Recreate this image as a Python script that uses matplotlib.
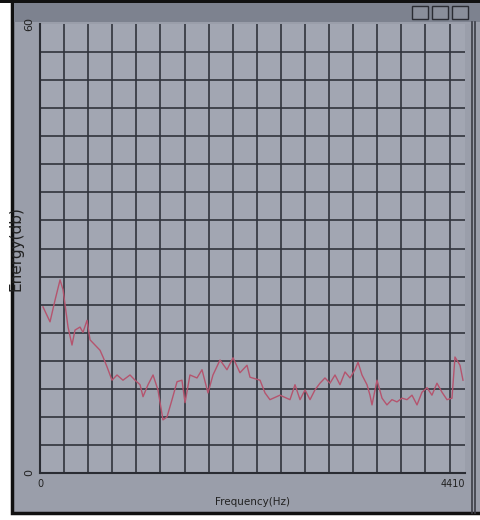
import matplotlib
matplotlib.use("Agg")
import matplotlib.pyplot as plt
from matplotlib.patches import Rectangle
import numpy as np

# spectrum
freq_hz = [31, 104, 156, 208, 239, 291, 332, 363, 415, 446, 488, 519, 571, 623, 654,
           695, 747, 799, 861, 934, 986, 1038, 1069, 1121, 1173, 1224, 1276, 1318, 1370,
           1422, 1473, 1505, 1556, 1629, 1681, 1743, 1795, 1868, 1940, 2003, 2075, 2148,
           2179, 2283, 2335, 2386, 2490, 2594, 2646, 2698, 2750, 2802, 2853, 2905, 2957,
           3009, 3061, 3113, 3165, 3217, 3268, 3300, 3341, 3393, 3424, 3445, 3497, 3549,
           3600, 3652, 3704, 3756, 3808, 3860, 3912, 3964, 4016, 4067, 4119, 4171, 4223,
           4275, 4306, 4358, 4389]
energy_db = [22.2, 20.2, 23.1, 25.8, 24.5, 19.5, 17.1, 19.1, 19.5, 18.8, 20.4, 17.8, 17.1,
             16.4, 15.5, 14.2, 12.4, 13.1, 12.4, 13.1, 12.4, 11.8, 10.2, 11.8, 13.1, 11.1,
             7.1, 7.5, 9.8, 12.2, 12.4, 9.4, 13.1, 12.7, 13.8, 10.7, 13.1, 15.1, 13.8, 15.4,
             13.4, 14.4, 12.8, 12.4, 10.7, 9.8, 10.4, 9.8, 11.8, 9.8, 11.1, 9.8, 11.1, 12.0,
             12.7, 12.0, 13.1, 11.8, 13.5, 12.7, 13.8, 14.8, 13.1, 11.8, 10.4, 9.1, 12.4,
             10.0, 9.1, 9.8, 9.5, 10.0, 9.8, 10.4, 9.1, 10.8, 11.4, 10.4, 12.0, 10.8, 9.8,
             10.0, 15.5, 14.4, 12.4]

x_max = 4410
y_max = 60

W, H = 481, 520
fig = plt.figure(figsize=(W / 100, H / 100), dpi=100, facecolor="white")

# window frame + title bar, kept behind the axes
def frame_rect(x0, y0, w, h, **kw):
    fig.patches.append(Rectangle((x0 / W, 1 - (y0 + h) / H), w / W, h / H,
                                 transform=fig.transFigure, zorder=-10, **kw))

def frame_vline(x, y0, y1, **kw):
    fig.add_artist(plt.Line2D([x / W, x / W], [1 - y1 / H, 1 - y0 / H],
                              transform=fig.transFigure, zorder=-9, **kw))

frame_rect(12, 1, 475, 512, facecolor="#9a9eaa", edgecolor="#111111", linewidth=2.5)
frame_rect(14, 3, 470, 19, facecolor="#7d828f", edgecolor="none")
frame_rect(0, 0, 481, 3, facecolor="#111111", edgecolor="none")
for bx in (412, 432, 452):
    frame_rect(bx, 6, 16, 13, facecolor="#8a8f9b", edgecolor="#2a2c33", linewidth=1)
frame_vline(472, 22, 513, color="#3a3d46", linewidth=1.2)
frame_vline(475, 22, 513, color="#3a3d46", linewidth=1.2)

ax = fig.add_axes([40 / W, 1 - 473 / H, 425 / W, 449 / H])
ax.set_facecolor("#a2a6b2")
ax.plot(freq_hz, energy_db, color="#b5546e", linewidth=1)

ax.set_xlim(0, x_max)
ax.set_ylim(0, y_max)
ax.set_xticks([0, x_max])
ax.set_yticks([0, y_max])
ax.set_xticks(np.arange(0, x_max, 250), minor=True)
ax.set_yticks(np.linspace(0, y_max, 17), minor=True)
ax.grid(which="minor", color="#30333c", linewidth=1.2)
ax.tick_params(which="both", length=0, colors="#222222")
ax.tick_params(axis="x", labelsize=7, pad=4)
ax.tick_params(axis="y", labelsize=8, pad=4)
for lab in ax.get_yticklabels():
    lab.set_rotation(90)
    lab.set_va("center")
ax.get_xticklabels()[-1].set_ha("right")
for s in ax.spines.values():
    s.set_visible(False)
for side in ("left", "bottom"):
    ax.spines[side].set_visible(True)
    ax.spines[side].set_color("#2a2c33")
    ax.spines[side].set_linewidth(1.5)

ax.set_xlabel("Frequency(Hz)", fontsize=7.5, color="#222222", labelpad=6)
ax.set_ylabel("Energy(db)", fontsize=11, color="#222222", labelpad=1)

fig.savefig("out.png", dpi=100, facecolor=fig.get_facecolor())
